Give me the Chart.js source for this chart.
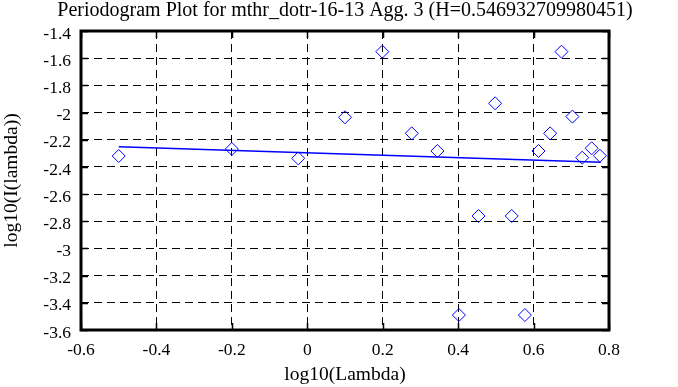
<!DOCTYPE html>
<html>
<head>
<meta charset="utf-8">
<script src="https://cdn.jsdelivr.net/npm/chart.js@4.4.1/dist/chart.umd.min.js"></script>
<style>
  html, body { margin: 0; padding: 0; background: #fff; }
  #wrap { width: 678px; height: 387px; }
</style>
</head>
<body>
<div id="wrap"><canvas id="pgram"></canvas></div>
<script>
// periodogram points (log10 lambda, log10 I)
const logLambda = [-0.5, -0.2, -0.024, 0.1, 0.199, 0.277, 0.345, 0.402, 0.454, 0.498,
                   0.542, 0.577, 0.613, 0.644, 0.674, 0.703, 0.729, 0.754, 0.776];
const logI = [-2.32, -2.268, -2.337, -2.035, -1.552, -2.153, -2.283, -3.49, -2.761, -1.932,
              -2.761, -3.49, -2.283, -2.153, -1.552, -2.03, -2.332, -2.263, -2.318];

// fitted line ends
const fitX = [-0.5, 0.778];
const fitY = [-2.251, -2.366];

// axis ticks
const xTicks = [-0.6, -0.4, -0.2, 0, 0.2, 0.4, 0.6, 0.8];
const yTicks = [-3.6, -3.4, -3.2, -3, -2.8, -2.6, -2.4, -2.2, -2, -1.8, -1.6, -1.4];

const titleText = "Periodogram Plot for mthr_dotr-16-13 Agg. 3 (H=0.546932709980451)";
const serif = "'Liberation Serif', 'DejaVu Serif', serif";

// frame + inward tick marks + title centred on the plot area
const framePlugin = {
    id: "frame",
    afterDraw(chart) {
        const { ctx, chartArea: a, scales } = chart;
        ctx.save();
        ctx.strokeStyle = "#000";
        ctx.lineWidth = 1.5;
        ctx.beginPath();
        xTicks.forEach(v => {
            const px = Math.round(scales.x.getPixelForValue(v)) + 0.5;
            ctx.moveTo(px, a.bottom); ctx.lineTo(px, a.bottom - 7);
            ctx.moveTo(px, a.top); ctx.lineTo(px, a.top + 7);
        });
        yTicks.forEach(v => {
            const py = Math.round(scales.y.getPixelForValue(v)) + 0.5;
            ctx.moveTo(a.left, py); ctx.lineTo(a.left + 7, py);
            ctx.moveTo(a.right, py); ctx.lineTo(a.right - 7, py);
        });
        ctx.stroke();
        ctx.lineWidth = 3;
        ctx.strokeRect(a.left, a.top, a.right - a.left, a.bottom - a.top);

        ctx.fillStyle = "#000";
        ctx.font = "20px " + serif;
        ctx.textAlign = "center";
        ctx.textBaseline = "middle";
        ctx.fillText(titleText, (a.left + a.right) / 2, 11);
        ctx.restore();
    }
};

const el = document.getElementById("pgram");

new Chart(el, {
    type: "scatter",
    data: {
        datasets: [{
            label: "periodogram",
            data: logLambda.map((x, i) => ({ x: x, y: logI[i] })),
            pointStyle: "rectRot",
            pointRadius: 6.5,
            pointHoverRadius: 6.5,
            borderColor: "#0000ff",
            backgroundColor: "rgba(0,0,0,0)",
            borderWidth: 1
        }, {
            type: "line",
            label: "fit",
            data: fitX.map((x, i) => ({ x: x, y: fitY[i] })),
            borderColor: "#0000ff",
            borderWidth: 1.5,
            pointRadius: 0,
            fill: false
        }]
    },
    options: {
        responsive: true,
        maintainAspectRatio: false,
        animation: false,
        layout: { padding: { left: 0, right: 69, top: 31, bottom: 0 } },
        plugins: {
            legend: { display: false },
            tooltip: { enabled: false },
            title: { display: false }
        },
        scales: {
            x: {
                type: "linear",
                min: xTicks[0],
                max: xTicks[xTicks.length - 1],
                afterBuildTicks: s => { s.ticks = xTicks.map(v => ({ value: v })); },
                afterFit: s => { s.height = 57; },
                ticks: {
                    color: "#000",
                    font: { family: serif, size: 17.5 },
                    padding: 10,
                    maxRotation: 0,
                    callback: v => String(Math.round(v * 10) / 10)
                },
                grid: { color: "#000", lineWidth: 1, drawTicks: false },
                border: { display: false, dash: [8, 5] },
                title: {
                    display: true,
                    text: "log10(Lambda)",
                    color: "#000",
                    font: { family: serif, size: 19.5 },
                    padding: { top: 0, bottom: 0 }
                }
            },
            y: {
                type: "linear",
                min: yTicks[0],
                max: yTicks[yTicks.length - 1],
                afterBuildTicks: s => { s.ticks = yTicks.map(v => ({ value: v })); },
                afterFit: s => { s.width = 81; },
                ticks: {
                    color: "#000",
                    font: { family: serif, size: 17.5 },
                    padding: 10,
                    labelOffset: 3,
                    callback: v => String(Math.round(v * 10) / 10)
                },
                grid: { color: "#000", lineWidth: 1, drawTicks: false },
                border: { display: false, dash: [8, 5] },
                title: {
                    display: true,
                    text: "log10(I(lambda))",
                    color: "#000",
                    font: { family: serif, size: 19.5 },
                    padding: { top: 0, bottom: 2 }
                }
            }
        }
    },
    plugins: [framePlugin]
});
</script>
</body>
</html>
